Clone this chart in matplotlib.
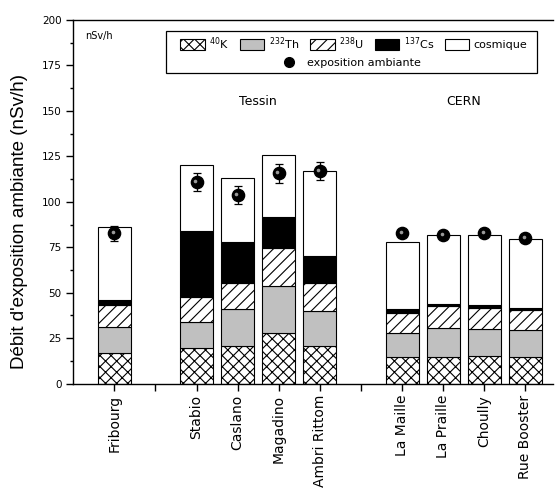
import numpy as np
import matplotlib
matplotlib.use("Agg")
import matplotlib.pyplot as plt
from matplotlib.patches import Patch, Rectangle
from matplotlib.lines import Line2D
from matplotlib.transforms import offset_copy

plt.rcParams["font.family"] = "DejaVu Sans"
plt.rcParams["hatch.linewidth"] = 0.8

# sites and their x positions (gaps at 2 and 7)
sites = ["Fribourg", "Stabio", "Caslano", "Magadino", "Ambri Rittom",
         "La Maille", "La Praille", "Choully", "Rue Booster"]
pos = [1, 3, 4, 5, 6, 8, 9, 10, 11]

# contributions in nSv/h
k40 = [16.7, 19.8, 20.7, 27.7, 20.9, 14.8, 14.8, 15.4, 14.8]
th232 = [14.6, 13.9, 20.2, 26.0, 18.9, 12.9, 16.0, 14.5, 14.9]
u238 = [12.1, 13.8, 14.6, 20.7, 15.7, 11.0, 11.7, 11.5, 11.0]
cs137 = [2.4, 36.4, 22.4, 17.4, 14.5, 2.2, 1.5, 1.8, 0.9]
cosmique = [40.3, 36.4, 35.3, 34.2, 46.9, 37.1, 37.5, 38.3, 37.7]

# measured ambient exposure
expo = [82.6, 110.7, 103.7, 115.6, 116.9, 82.6, 81.7, 82.6, 79.9]
expo_err = [4, 5, 5, 5, 5, 1, 1, 1, 1]

fig = plt.figure(figsize=(5.55, 4.95), dpi=100)
ax = fig.add_axes([0.132, 0.2249, 0.8644, 0.7347])

w = 0.8
bottom = np.zeros(len(pos))
layers = [
    (k40, "white", "xxx"),
    (th232, "#c0c0c0", None),
    (u238, "white", "///"),
    (cs137, "black", None),
    (cosmique, "white", None),
]
for vals, fc, hatch in layers:
    ax.bar(pos, vals, w, bottom=bottom, color=fc, edgecolor="black",
           linewidth=0.8, hatch=hatch, zorder=2)
    bottom = bottom + np.array(vals)

ax.errorbar(pos, expo, yerr=expo_err, fmt="none", ecolor="black",
            elinewidth=0.9, capsize=3, capthick=0.9, zorder=3)
ax.plot(pos, expo, "o", color="black", ms=8.8, zorder=4)
hl = offset_copy(ax.transData, fig=fig, x=-1.6, y=1.6, units="dots")
ax.plot(pos, expo, "o", color="#9a9a9a", ms=2.6, mew=0, transform=hl, zorder=5)

ax.set_xlim(0, 11.67)
ax.set_ylim(0, 200)
ax.set_xticks(range(1, 12))
tick_labels = [""] * 11
for p, s in zip(pos, sites):
    tick_labels[p - 1] = s
ax.set_xticklabels(tick_labels, rotation=90, fontsize=10)
ax.set_yticks(np.arange(0, 201, 25))
ax.set_yticks(np.arange(0, 201, 12.5), minor=True)
ax.tick_params(axis="y", labelsize=7.5, direction="out", length=5, width=1)
ax.tick_params(axis="y", which="minor", direction="out", length=2.5, width=1)
ax.tick_params(axis="x", direction="out", length=5, width=1, pad=3)
ax.spines["right"].set_visible(False)
for s in ["left", "bottom", "top"]:
    ax.spines[s].set_linewidth(1)

ax.set_ylabel("Débit d'exposition ambiante (nSv/h)", fontsize=13.5,
              family="Liberation Sans")
ax.yaxis.set_label_coords(-0.095, 0.447)

ax.text(0.024, 0.955, "nSv/h", transform=ax.transAxes, fontsize=7,
        ha="left", va="center")
ax.text(4.5, 155, "Tessin", fontsize=9, ha="center", va="center")
ax.text(9.5, 155, "CERN", fontsize=9, ha="center", va="center")

# legend
ax.add_patch(Rectangle((0.193, 0.854), 0.774, 0.116, transform=ax.transAxes,
                       facecolor="white", edgecolor="black", linewidth=0.9,
                       zorder=6))
names = ["$^{40}$K", "$^{232}$Th", "$^{238}$U", "$^{137}$Cs", "cosmique"]
handles = [Patch(facecolor=fc, edgecolor="black", hatch=h, linewidth=0.8)
           for _, fc, h in layers]
leg1 = ax.legend(handles, names, ncol=5, loc="center",
                 bbox_to_anchor=(0.585, 0.936), frameon=False, fontsize=8,
                 handlelength=2.2, handleheight=1.1, handletextpad=0.4,
                 columnspacing=1.0, borderpad=0)
leg1.set_zorder(7)
ax.add_artist(leg1)
mk = Line2D([], [], marker="o", color="black", ls="none", ms=7)
leg2 = ax.legend([mk], ["exposition ambiante"], loc="center",
                 bbox_to_anchor=(0.575, 0.881), frameon=False, fontsize=8,
                 handlelength=2.0, handletextpad=0.6, borderpad=0)
leg2.set_zorder(7)

fig.savefig("out.png", dpi=100)
